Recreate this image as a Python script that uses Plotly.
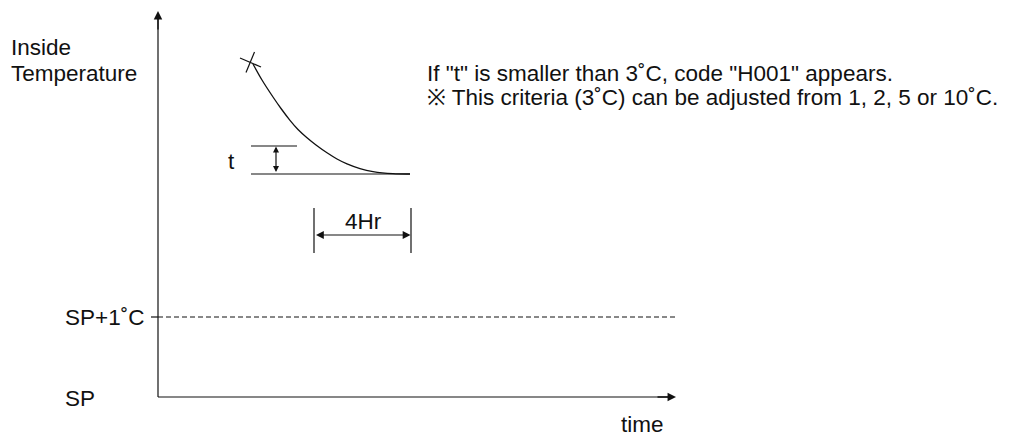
import plotly.graph_objects as go

# Diagram coordinates (horizontal = time position, vertical = temperature position; screen units)
axis_origin = (158, 397)
y_axis_top = 11
x_axis_end = 676
sp1_level = 317

curve_x = [253, 262, 273, 281, 290, 298, 307, 316, 327, 337, 347, 360, 373, 393, 410]
curve_y = [64, 80, 97, 108.5, 120.3, 129.5, 137.8, 145, 152.8, 159, 163.9, 168.6, 171.6, 173.7, 174]

t_bottom_line = ([251, 410], [174, 174])
t_top_line = ([251, 297], [146, 146])
t_arrow_x = 276
hr_bars_x = [314, 411]
hr_bars_y = [208, 253]
hr_arrow_y = 235

label_font = dict(family="Liberation Sans, Arial, sans-serif", size=22.5, color="#111")

fig = go.Figure()

def line(xs, ys, dash=None, width=1.2, shape="linear"):
    fig.add_trace(go.Scatter(x=xs, y=ys, mode="lines", hoverinfo="skip",
                             line=dict(color="#111", width=width, dash=dash, shape=shape),
                             showlegend=False))

# axes
line([axis_origin[0], axis_origin[0]], [axis_origin[1], y_axis_top + 8])
line([axis_origin[0], x_axis_end - 8], [axis_origin[1], axis_origin[1]])
# SP+1 dashed line with tick
line([151, axis_origin[0]], [sp1_level, sp1_level])
line([axis_origin[0], x_axis_end], [sp1_level, sp1_level], dash="5px,3px", width=1)
# curve
line(curve_x, curve_y, width=1.3, shape="spline")
# X mark
line([240, 261], [58, 67])
line([254.5, 246], [52, 72.5])
# t lines
line(*t_bottom_line)
line(*t_top_line)
# 4Hr bars
for bx in hr_bars_x:
    line([bx, bx], hr_bars_y)

ann = []
# axis arrowheads
ann.append(dict(x=axis_origin[0], y=y_axis_top, ax=axis_origin[0], ay=y_axis_top + 20,
                xref="x", yref="y", axref="x", ayref="y", showarrow=True,
                arrowhead=2, arrowsize=1.3, arrowwidth=1.3, arrowcolor="#111", text=""))
ann.append(dict(x=x_axis_end, y=axis_origin[1], ax=x_axis_end - 20, ay=axis_origin[1],
                xref="x", yref="y", axref="x", ayref="y", showarrow=True,
                arrowhead=2, arrowsize=1.3, arrowwidth=1.3, arrowcolor="#111", text=""))
# t double arrow
ann.append(dict(x=t_arrow_x, y=146.5, ax=t_arrow_x, ay=173.5,
                xref="x", yref="y", axref="x", ayref="y", showarrow=True,
                arrowhead=2, startarrowhead=2, arrowside="end+start", arrowsize=1, startarrowsize=1,
                arrowwidth=1.2, arrowcolor="#111", text=""))
# 4Hr double arrow
ann.append(dict(x=hr_bars_x[1] - 0.5, y=hr_arrow_y, ax=hr_bars_x[0] + 0.5, ay=hr_arrow_y,
                xref="x", yref="y", axref="x", ayref="y", showarrow=True,
                arrowhead=2, startarrowhead=2, arrowside="end+start", arrowsize=1.3, startarrowsize=1.3,
                arrowwidth=1.2, arrowcolor="#111", text=""))

def text(x, y, s, xanchor="left"):
    ann.append(dict(x=x, y=y, xref="x", yref="y", text=s, showarrow=False,
                    xanchor=xanchor, yanchor="middle", font=label_font))

text(8.5, 47, "Inside")
text(8.5, 73, "Temperature")
text(146, sp1_level, "SP+1˚C", "right")
text(63, 398, "SP")
text(642, 424, "time", "center")
text(231, 161, "t", "center")
text(363, 221, "4Hr", "center")
text(425, 73, 'If "t" is smaller than 3˚C, code "H001" appears.')
text(425, 97, '※ This criteria (3˚C) can be adjusted from 1, 2, 5 or 10˚C.')

# page body has an 8px margin, so shift the ranges to line screen pixels up with the diagram units
off = 8
fig.update_layout(
    width=1017, height=439, margin=dict(l=0, r=0, t=0, b=0),
    paper_bgcolor="white", plot_bgcolor="white",
    xaxis=dict(range=[off, 1017 + off], visible=False, fixedrange=True),
    yaxis=dict(range=[439 + off, off], visible=False, fixedrange=True),
    annotations=ann, showlegend=False,
)
fig.write_html("out.html")
